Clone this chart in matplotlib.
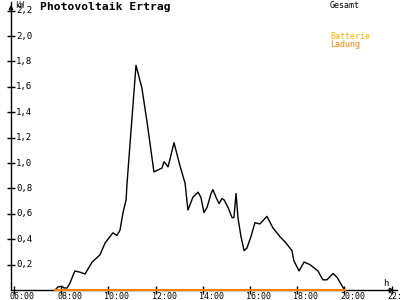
import matplotlib
matplotlib.use("Agg")
import matplotlib.pyplot as plt
from matplotlib.transforms import ScaledTranslation, blended_transform_factory

hours = [7.74, 7.86, 8.03, 8.12, 8.25, 8.37, 8.58, 8.80, 9.01, 9.31, 9.64, 9.86, 9.98,
         10.19, 10.36, 10.49, 10.62, 10.75, 10.79, 11.17, 11.42, 11.64, 11.93, 12.27,
         12.36, 12.53, 12.78, 13.03, 13.25, 13.37, 13.58, 13.80, 13.92, 14.05, 14.18,
         14.35, 14.43, 14.56, 14.69, 14.81, 14.90, 15.07, 15.24, 15.32, 15.41, 15.49,
         15.62, 15.75, 15.87, 16.04, 16.21, 16.42, 16.72, 16.97, 17.27, 17.48, 17.78,
         17.86, 18.08, 18.29, 18.54, 18.88, 19.09, 19.26, 19.52, 19.69, 19.94, 20.03]
gesamt = [0.0, 0.024, 0.03, 0.016, 0.016, 0.055, 0.15, 0.14, 0.126, 0.22, 0.276, 0.37, 0.40,
          0.45, 0.43, 0.47, 0.61, 0.71, 0.84, 1.77, 1.59, 1.32, 0.93, 0.96,
          1.01, 0.97, 1.16, 0.98, 0.84, 0.63, 0.73, 0.77, 0.73, 0.61, 0.65,
          0.76, 0.79, 0.73, 0.68, 0.72, 0.71, 0.65, 0.57, 0.57, 0.76, 0.57,
          0.42, 0.31, 0.33, 0.42, 0.53, 0.52, 0.58, 0.49, 0.42, 0.38, 0.31,
          0.23, 0.15, 0.22, 0.20, 0.15, 0.08, 0.08, 0.13, 0.10, 0.02, 0.0]
ladung_hours = [7.74, 20.03]
ladung = [0.0, 0.0]

xticks = [6, 8, 10, 12, 14, 16, 18, 20, 22]
xticklabels = ["06:00", "08:00", "10:00", "12:00", "14:00", "16:00", "18:00", "20:00", "22:00"]
yticks = [0.2, 0.4, 0.6, 0.8, 1.0, 1.2, 1.4, 1.6, 1.8, 2.0, 2.2]
yticklabels = ["0,2", "0,4", "0,6", "0,8", "1,0", "1,2", "1,4", "1,6", "1,8", "2,0", "2,2"]

title = "Photovoltaik Ertrag"
legend_items = [("Gesamt", "black"), ("Batterie", "#FFB000"), ("Ladung", "#FF8000")]

mono = "DejaVu Sans Mono"
fig = plt.figure(figsize=(4, 3), dpi=100)
ax = fig.add_axes([11/400, 10/300, 386/400, 288/300])
ax.set_xlim(5.873, 22.23)
ax.set_ylim(0, 2.268)

ax.plot(hours, gesamt, color="black", lw=1.0, zorder=3)
ax.plot(ladung_hours, ladung, color="#FF8000", lw=1.5, zorder=4, clip_on=False)

for s in ["top", "right"]:
    ax.spines[s].set_visible(False)
for s in ["left", "bottom"]:
    ax.spines[s].set_linewidth(1.0)
    ax.spines[s].set_color("black")

ax.set_xticks(xticks)
ax.set_xticklabels([])
ax.set_yticks(yticks)
ax.set_yticklabels([])
ax.tick_params(axis="both", direction="inout", length=6, width=1.0)

trx = blended_transform_factory(ax.transData, fig.transFigure)
for v, t in zip(xticks, xticklabels):
    ax.text(v, 1/300, t, transform=trx + ScaledTranslation(-4/100, 0, fig.dpi_scale_trans),
            ha="left", va="baseline", fontsize=6, family=mono, clip_on=False)

tr = blended_transform_factory(ax.transAxes, ax.transData)
for v, t in zip(yticks, yticklabels):
    ax.text(0, v, t, transform=tr + ScaledTranslation(5/100, 0, fig.dpi_scale_trans),
            ha="left", va="center", fontsize=6.5, family=mono)

# axis arrows
ax.annotate("", xy=(0, 1.0), xytext=(0, 0.96), xycoords="axes fraction",
            arrowprops=dict(arrowstyle="->", lw=1.0, color="black", mutation_scale=6),
            annotation_clip=False)
ax.annotate("", xy=(1.0, 0), xytext=(0.97, 0), xycoords="axes fraction",
            arrowprops=dict(arrowstyle="->", lw=1.0, color="black", mutation_scale=6),
            annotation_clip=False)

fig.text(15/400, 1 - 1/300, "kW", fontsize=5.5, family=mono, va="top", ha="left")
fig.text(386/400, 1 - 283/300, "h", fontsize=6.5, family=mono, va="center", ha="center")
fig.text(40/400, 1 - 2/300, title, fontsize=8.2, family=mono, weight="bold", va="top", ha="left")

ys = [1/300, 32/300, 40/300]
for (t, c), y in zip(legend_items, ys):
    fig.text(330/400, 1 - y, t, fontsize=6, family=mono, color=c, va="top", ha="left")

fig.savefig("out.png", dpi=100)
